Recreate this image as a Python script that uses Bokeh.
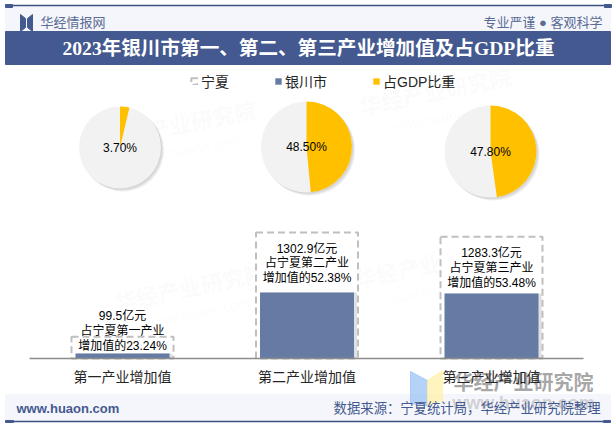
from math import pi

from bokeh.core.properties import value
from bokeh.embed import file_html
from bokeh.models import ColumnDataSource, FixedTicker, Legend, LegendItem, LinearAxis, Range1d
from bokeh.plotting import figure
from bokeh.resources import INLINE

# Data
categories = ["第一产业增加值", "第二产业增加值", "第三产业增加值"]
ordinals = ["第一", "第二", "第三"]
ningxia = [428.1, 2487.4, 2399.6]
yinchuan = [99.5, 1302.9, 1283.3]
share_of_ningxia = [23.24, 52.38, 53.48]
gdp_share = [3.70, 48.50, 47.80]

CJK = "Liberation Sans, Noto Sans CJK SC"
NAVY = "#44598F"
positions = list(range(len(categories)))

# x and y in page pixels for the page furniture, extra ranges for the data
p = figure(width=615, height=427, x_range=Range1d(0, 613), y_range=Range1d(427, 0),
           x_axis_type=None, y_axis_type=None, output_backend="svg", toolbar_location=None,
           min_border=0, min_border_right=2, outline_line_color=None)
p.extra_x_ranges["cat"] = Range1d(-0.6612, 2.6612)
p.extra_y_ranges["value"] = Range1d(-1361, 7061)


def put_text(x, y, text, size, color="#000000", style="normal", align="center", font=CJK, alpha=1.0, angle=0):
    p.text(x=[x], y=[y], text=[text], text_font=value(font), text_font_size=f"{size}px", text_color=color,
           text_font_style=style, text_align=align, text_baseline="middle", text_alpha=alpha, angle=angle)


# Faint watermarks
for wx, wy in [(180, 125), (435, 92), (190, 288), (430, 265)]:
    put_text(wx, wy, "华经产业研究院", 22, color="#8090B0", style="bold", alpha=0.05, angle=0.2)
    put_text(wx + 8, wy + 24, "www.huaon.com", 14, color="#8090B0", alpha=0.04, angle=0.2)

# Header
p.quad(left=[5], right=[610], top=[5], bottom=[31], color="#F4F6FB")
p.quad(left=[5], right=[610], top=[31], bottom=[64], color=NAVY)
p.segment(x0=[5], x1=[610], y0=[5], y1=[5], line_color="#3B4F81", line_width=1.5)
p.quad(left=[5, 604], right=[12, 611], top=[4, 4], bottom=[7, 7], color=NAVY)
p.patches(xs=[[20, 25, 25, 20], [32, 27, 27, 32]], ys=[[14, 18, 27, 31], [14, 18, 27, 31]], color=NAVY)
put_text(40, 22, "华经情报网", 13, color="#5A6B94", align="left")
put_text(602, 22, "专业严谨 ● 客观科学", 13, color="#5A6B94", align="right")
put_text(308, 48, "2023年银川市第一、第二、第三产业增加值及占GDP比重", 19.6, color="#FFFFFF", style="bold",
         font="Liberation Serif, Noto Sans CJK SC")

# Pies, nudged a little off the bar centres like the original
pie_x = [i + n / 184.5 for i, n in zip(positions, [-2.5, -0.5, -1])]
pie_y = [147, 146.5, 151]
pie_r = [41, 45.5, 46]
pies = ColumnDataSource(data=dict(x=pie_x, y=pie_y, r=pie_r,
                                  end=[pi / 2 - 2 * pi * v / 100 for v in gdp_share],
                                  label=[f"{v:.2f}%" for v in gdp_share]))
for off in [1, 2, 3]:
    p.circle(x=[x + off / 184.5 for x in pie_x], y=[y + off for y in pie_y], radius=pie_r,
             radius_units="screen", x_range_name="cat", fill_color="#666666", fill_alpha=0.10, line_color=None)
p.circle(x="x", y="y", radius="r", radius_units="screen", source=pies, x_range_name="cat",
         fill_color="#F2F2F2", line_color=None)
share_wedge = p.wedge(x="x", y="y", radius="r", radius_units="screen", start_angle=pi / 2, end_angle="end",
                      direction="clock", source=pies, x_range_name="cat", fill_color="#FFC000", line_color=None)
p.text(x="x", y="y", text="label", source=pies, x_range_name="cat", text_font=value(CJK), text_font_size="12px",
       text_align="center", text_baseline="middle", text_color="#000000")

# Bars
bars = ColumnDataSource(data=dict(pos=positions, ningxia=ningxia, yinchuan=yinchuan, dy=[-6, 31, 31],
                                  label=[f"{v}亿元\n占宁夏{o}产业\n增加值的{s:.2f}%" for v, o, s
                                         in zip(yinchuan, ordinals, share_of_ningxia)]))
ningxia_bar = p.vbar(x="pos", top="ningxia", bottom=0, width=102 / 184.5, source=bars, x_range_name="cat",
                     y_range_name="value", fill_color="#FFFFFF", line_color="#BFBFBF", line_width=2)
ningxia_bar.glyph.line_dash = [7, 4]
p.vbar(x=[i + 2 / 184.5 for i in positions], top=yinchuan, bottom=0, width=96 / 184.5,
       x_range_name="cat", y_range_name="value", fill_color="#666666", fill_alpha=0.2, line_color=None)
yinchuan_bar = p.vbar(x="pos", top="yinchuan", bottom=0, width=94 / 184.5, source=bars, x_range_name="cat",
                      y_range_name="value", fill_color="#667BA3", line_color=None)
p.segment(x0=[29], x1=[583], y0=[0], y1=[0], y_range_name="value", line_color="#8C8C8C", line_width=1.5)
p.text(x="pos", y="ningxia", y_offset="dy", text="label", source=bars, x_range_name="cat", y_range_name="value",
       text_font=value(CJK), text_font_size="12px", text_align="center", text_baseline="middle",
       text_color="#000000", text_line_height=1.06)

axis = LinearAxis(x_range_name="cat", y_range_name="value", fixed_location=0, ticker=FixedTicker(ticks=positions),
                  major_label_overrides=dict(zip(positions, categories)))
axis.axis_line_color = None
axis.major_tick_line_color = None
axis.minor_tick_line_color = None
axis.major_label_text_font = CJK
axis.major_label_text_font_size = "14px"
axis.major_label_text_color = "#262626"
axis.major_label_standoff = 5
p.add_layout(axis, "below")

legend = Legend(items=[LegendItem(label="宁夏", renderers=[ningxia_bar]),
                       LegendItem(label="银川市", renderers=[yinchuan_bar]),
                       LegendItem(label="占GDP比重", renderers=[share_wedge])],
                orientation="horizontal", location=(190, 336), background_fill_alpha=0, border_line_color=None,
                glyph_width=8, glyph_height=8, label_standoff=3, spacing=45, padding=0, margin=0,
                label_text_font=CJK, label_text_font_size="14px", label_text_color="#262626")
p.add_layout(legend, "center")

# Footer
p.quad(left=[5], right=[610], top=[394], bottom=[421], color="#F4F6FB")
p.segment(x0=[5], x1=[610], y0=[421], y1=[421], line_color="#3B4F81", line_width=1.5)
p.quad(left=[5, 603], right=[13, 610], top=[420, 420], bottom=[422, 422], color=NAVY)

# Corner watermark sits over the axis labels
p.patches(xs=[[410, 427, 427, 410], [427, 442, 442, 427]], ys=[[371, 380, 405, 403], [380, 370, 400, 405]],
          color=["#9CC3F5", "#FFF0A8"], alpha=0.75)
put_text(523, 382, "华经产业研究院", 20, color="#8A8A8A", style="bold", alpha=0.75)
put_text(523, 402, "www.huaon.com", 18, color="#8A8A8A", style="bold", alpha=0.35)
put_text(16, 408, "www.huaon.com", 13, color=NAVY, align="left", style="bold")
put_text(600, 408, "数据来源：宁夏统计局，华经产业研究院整理", 13.35, color=NAVY, align="right")

open("out.html", "w").write(file_html(p, INLINE))
